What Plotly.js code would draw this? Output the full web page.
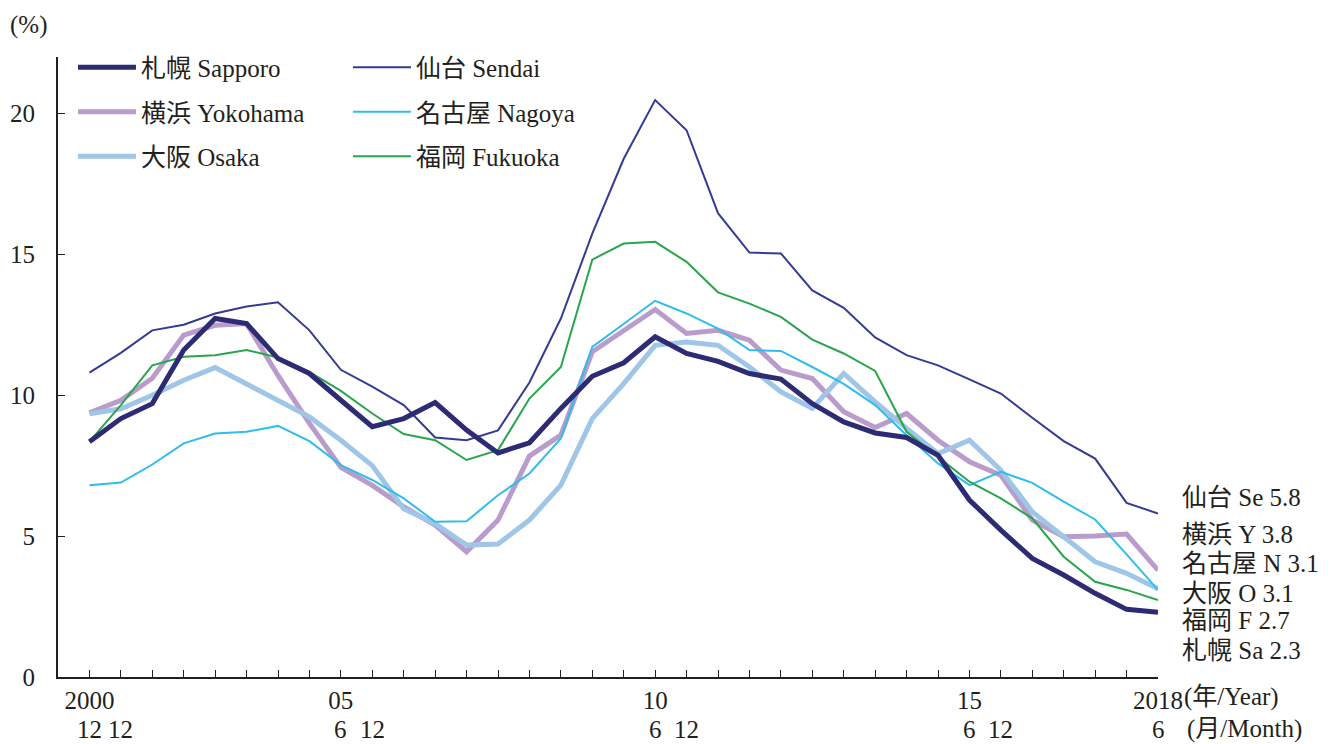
<!DOCTYPE html>
<html>
<head>
<meta charset="utf-8">
<script src="https://cdn.plot.ly/plotly-3.0.1.min.js"></script>
<style>
  html, body { margin: 0; padding: 0; background: #fff; }
  #chart { width: 1331px; height: 744px; }
</style>
</head>
<body>
<div id="chart"></div>
<script>
// 2000/12, 2001/12, then every June and December up to 2018/6
const periods = ['2000/12','2001/12',
  '2002/6','2002/12','2003/6','2003/12','2004/6','2004/12','2005/6','2005/12',
  '2006/6','2006/12','2007/6','2007/12','2008/6','2008/12','2009/6','2009/12',
  '2010/6','2010/12','2011/6','2011/12','2012/6','2012/12','2013/6','2013/12',
  '2014/6','2014/12','2015/6','2015/12','2016/6','2016/12','2017/6','2017/12','2018/6'];

const sapporo  = [8.35, 9.17, 9.7, 11.6, 12.72, 12.54, 11.3, 10.77, 9.82, 8.88, 9.17, 9.74, 8.76, 7.95, 8.31, 9.53, 10.67, 11.15, 12.07, 11.48, 11.2, 10.77, 10.57, 9.7, 9.05, 8.66, 8.5, 7.87, 6.28, 5.21, 4.21, 3.62, 2.97, 2.4, 2.3];
const sendai   = [10.8, 11.5, 12.3, 12.5, 12.9, 13.15, 13.3, 12.3, 10.9, 10.3, 9.65, 8.5, 8.4, 8.75, 10.45, 12.72, 15.73, 18.39, 20.47, 19.4, 16.46, 15.06, 15.03, 13.72, 13.1, 12.05, 11.42, 11.06, 10.56, 10.06, 9.2, 8.37, 7.75, 6.18, 5.8];
const yokohama = [9.37, 9.82, 10.6, 12.13, 12.48, 12.54, 10.7, 9.0, 7.44, 6.8, 6.04, 5.39, 4.44, 5.57, 7.84, 8.58, 11.54, 12.3, 13.04, 12.19, 12.3, 11.95, 10.89, 10.59, 9.41, 8.85, 9.35, 8.4, 7.64, 7.16, 5.57, 4.98, 5.0, 5.07, 3.79];
const nagoya   = [6.8, 6.9, 7.54, 8.29, 8.64, 8.7, 8.91, 8.37, 7.52, 6.99, 6.34, 5.51, 5.53, 6.45, 7.22, 8.46, 11.71, 12.54, 13.35, 12.9, 12.36, 11.6, 11.57, 11.0, 10.4, 9.65, 8.58, 7.58, 6.81, 7.28, 6.89, 6.22, 5.59, 4.35, 3.09];
const osaka    = [9.34, 9.52, 10.0, 10.53, 10.98, 10.41, 9.82, 9.23, 8.4, 7.5, 5.97, 5.44, 4.68, 4.72, 5.57, 6.81, 9.17, 10.41, 11.77, 11.89, 11.77, 11.0, 10.12, 9.53, 10.77, 9.76, 8.82, 7.93, 8.4, 7.34, 5.86, 4.98, 4.09, 3.68, 3.13];
const fukuoka  = [8.35, 9.65, 11.06, 11.36, 11.42, 11.6, 11.34, 10.83, 10.15, 9.35, 8.62, 8.4, 7.7, 8.05, 9.88, 11.0, 14.81, 15.38, 15.44, 14.73, 13.65, 13.25, 12.78, 11.97, 11.48, 10.86, 8.7, 7.81, 6.93, 6.34, 5.63, 4.27, 3.38, 3.09, 2.73];

// x-axis labels (year row and month row)
const yearTicks  = {0: '2000', 8: '05', 18: '10', 28: '15', 34: '2018'};
const monthTicks = {0: '12', 1: '12', 8: '6', 9: '12', 18: '6', 19: '12', 28: '6', 29: '12', 34: '6'};

const FONT = 'Liberation Serif, "Noto Sans CJK JP", serif';
const FS = 25;
const INK = '#231f20';
const idx = periods.map((p, i) => i);

const series = [
  {name: '横浜 Yokohama', short: '横浜 Y',   y: yokohama, color: '#b99ccb', w: 5, legend: 'legend',  rank: 2},
  {name: '大阪 Osaka',    short: '大阪 O',   y: osaka,    color: '#9fc6e7', w: 5, legend: 'legend',  rank: 3},
  {name: '名古屋 Nagoya', short: '名古屋 N', y: nagoya,   color: '#2fbdeb', w: 2, legend: 'legend2', rank: 2},
  {name: '福岡 Fukuoka',  short: '福岡 F',   y: fukuoka,  color: '#2ba54c', w: 2, legend: 'legend2', rank: 3},
  {name: '仙台 Sendai',   short: '仙台 Se',  y: sendai,   color: '#343b93', w: 2, legend: 'legend2', rank: 1},
  {name: '札幌 Sapporo',  short: '札幌 Sa',  y: sapporo,  color: '#2c2b73', w: 5, legend: 'legend',  rank: 1}
];

const traces = series.map(s => ({
  x: idx, y: s.y, type: 'scatter', mode: 'lines', name: s.name,
  line: {color: s.color, width: s.w},
  legend: s.legend, legendgroup: s.name, legendrank: s.rank,
  hoverinfo: 'skip'
}));

// end labels, top to bottom, pixel offsets above the x axis
const endOrder = ['仙台 Sendai', '横浜 Yokohama', '名古屋 Nagoya', '大阪 Osaka', '福岡 Fukuoka', '札幌 Sapporo'];
const endShift = [180, 143, 114, 84, 57, 27];

const annotations = [];
endOrder.forEach((n, k) => {
  const s = series.find(d => d.name === n);
  annotations.push({
    xref: 'paper', yref: 'paper', x: 1, y: 0, xanchor: 'left', yanchor: 'middle',
    xshift: 22, yshift: endShift[k], showarrow: false,
    text: s.short + ' ' + s.y[s.y.length - 1].toFixed(1),
    font: {family: FONT, size: FS, color: INK}
  });
});

Object.keys(monthTicks).forEach(k => {
  annotations.push({
    xref: 'x', yref: 'paper', x: +k, y: 0, xanchor: 'center', yanchor: 'middle',
    yshift: -52, showarrow: false, text: monthTicks[k],
    font: {family: FONT, size: FS, color: INK}
  });
});

annotations.push(
  {xref: 'x', yref: 'paper', x: 34, y: 0, xanchor: 'left', yanchor: 'middle',
   xshift: 24, yshift: -20, showarrow: false, text: '(年/Year)',
   font: {family: FONT, size: FS, color: INK}},
  {xref: 'x', yref: 'paper', x: 34, y: 0, xanchor: 'left', yanchor: 'middle',
   xshift: 27, yshift: -52, showarrow: false, text: '(月/Month)',
   font: {family: FONT, size: FS, color: INK}},
  {xref: 'paper', yref: 'paper', x: 0, y: 1, xanchor: 'left', yanchor: 'middle',
   xshift: -50, yshift: 32, showarrow: false, text: '(%)',
   font: {family: FONT, size: FS, color: INK}}
);

const legendBase = {
  xref: 'paper', yref: 'paper', xanchor: 'left', yanchor: 'top',
  bgcolor: 'rgba(0,0,0,0)', borderwidth: 0, tracegroupgap: 9,
  itemwidth: 58, font: {family: FONT, size: FS, color: INK}
};

const layout = {
  width: 1331, height: 744,
  margin: {l: 58, r: 173, t: 57, b: 67},
  paper_bgcolor: '#fff', plot_bgcolor: '#fff',
  font: {family: FONT, size: FS, color: INK},
  showlegend: true,
  legend:  Object.assign({}, legendBase, {x: 0.0136, y: 1.02}),
  legend2: Object.assign({}, legendBase, {x: 0.2636, y: 1.02}),
  xaxis: {
    range: [-1, 34], showgrid: false, zeroline: false,
    showline: true, linecolor: INK, linewidth: 2,
    ticks: 'inside', ticklen: 7, tickwidth: 1, tickcolor: INK,
    tickvals: idx, ticktext: idx.map(i => yearTicks[i] || ''),
    ticklabelstandoff: 0,
    tickfont: {family: FONT, size: FS, color: INK}
  },
  yaxis: {
    range: [0, 22], showgrid: false, zeroline: false,
    showline: true, linecolor: INK, linewidth: 2,
    ticks: 'inside', ticklen: 7, tickwidth: 1, tickcolor: INK,
    tickvals: [0, 5, 10, 15, 20],
    ticklabelstandoff: 16,
    tickfont: {family: FONT, size: FS, color: INK}
  },
  annotations: annotations
};

Plotly.newPlot('chart', traces, layout, {staticPlot: true});
</script>
</body>
</html>
